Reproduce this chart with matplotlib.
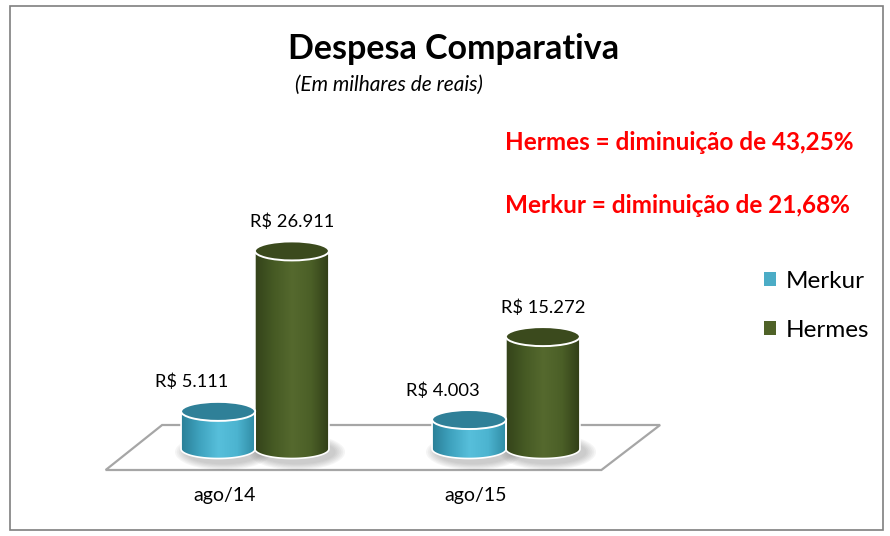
import numpy as np
import matplotlib.pyplot as plt
from matplotlib.patches import Ellipse, Polygon, Rectangle, PathPatch, Patch
from matplotlib.path import Path
from matplotlib.colors import LinearSegmentedColormap

plt.rcParams['font.family'] = ['Lato', 'DejaVu Sans']

categories = ["ago/14", "ago/15"]
series = ["Merkur", "Hermes"]
merkur = [5111, 4003]
hermes = [26911, 15272]
value_labels = [["R$ 5.111", "R$ 4.003"], ["R$ 26.911", "R$ 15.272"]]
title = "Despesa Comparativa"
subtitle = "(Em milhares de reais)"
notes = ["Hermes = diminuição de 43,25%", "Merkur = diminuição de 21,68%"]

W, H = 890, 536
fig = plt.figure(figsize=(W / 100, H / 100), dpi=100)
ax = fig.add_axes([0, 0, 1, 1])
ax.axis('off')

# pixel layout: category 0 center at px 255, 251 px per category, base at px 449
px_x0, px_per_cat = 255, 251
px_base, px_per_val = 449, 0.00736
ax.set_xlim(-px_x0 / px_per_cat, (W - px_x0) / px_per_cat)
ax.set_ylim((px_base - H) / px_per_val, px_base / px_per_val)

def vpx(p):  # pixel length -> value units
    return p / px_per_val

# border of the chart area
fig.patches.append(Rectangle((10 / W, 6 / H), 873 / W, 524 / H, transform=fig.transFigure,
                             fill=False, edgecolor='#7f7f7f', lw=1.2))

# floor
front, back = -vpx(21), vpx(24)
floor = Polygon([(-0.595, front), (-0.37, back), (1 + 0.614, back), (1 + 0.38, front)],
                closed=True, facecolor='white', edgecolor='#a6a6a6', lw=1.6, zorder=1)
ax.add_patch(floor)

cyl_w = 0.295
ell_h = vpx(19)
offsets = [-0.147, 0.147]
colors = [
    dict(grad=['#2a7f97', '#3fa3bf', '#57bfdb', '#4cb4d0', '#2f8aa3'], top='#2f8098', legend='#4bacc6'),
    dict(grad=['#34431a', '#465a24', '#55692e', '#4b5f27', '#303d17'], top='#3b4a1d', legend='#4f6228'),
]
all_vals = [merkur, hermes]

for s, vals in enumerate(all_vals):
    cmap = LinearSegmentedColormap.from_list('c%d' % s, colors[s]['grad'])
    for i, v in enumerate(vals):
        xc = i + offsets[s]
        x0, x1 = xc - cyl_w / 2, xc + cyl_w / 2
        # shadow
        for k in range(6):
            ax.add_patch(Ellipse((xc + 0.02, -vpx(3)), cyl_w * (1.05 + 0.05 * k), ell_h * (1.3 + 0.12 * k),
                                 facecolor='#606060', edgecolor='none', alpha=0.06, zorder=2))
        # body path
        t = np.linspace(np.pi, 2 * np.pi, 60)
        arc = np.column_stack([xc + cyl_w / 2 * np.cos(t), ell_h / 2 * np.sin(t)])
        verts = np.vstack([[[x0, v]], arc, [[x1, v]], [[x0, v]]])
        codes = [Path.MOVETO] + [Path.LINETO] * (len(verts) - 2) + [Path.CLOSEPOLY]
        body = PathPatch(Path(verts, codes), facecolor='none', edgecolor='white', lw=1.2, zorder=4)
        ax.add_patch(body)
        grad = np.linspace(0, 1, 200).reshape(1, -1)
        im = ax.imshow(grad, cmap=cmap, aspect='auto', extent=[x0, x1, -ell_h / 2, v],
                       origin='lower', zorder=3, interpolation='bilinear')
        im.set_clip_path(body)
        # top
        ax.add_patch(Ellipse((xc, v), cyl_w, ell_h, facecolor=colors[s]['top'],
                             edgecolor='white', lw=1.4, zorder=5))
        # value label
        dx = -0.105 if s == 0 else 0.0
        ax.annotate(value_labels[s][i], (xc + dx, v), xytext=(0, 21), textcoords='offset points',
                    ha='center', va='center', fontsize=13.2, color='black', zorder=6)

for i, c in enumerate(categories):
    ax.text(i - 0.12, -vpx(47), c, ha='center', va='center', fontsize=14)

fig.text(454 / W, 1 - 49 / H, title, ha='center', va='center', fontsize=24.5, fontweight='bold')
fig.text(389 / W, 1 - 85 / H, subtitle, ha='center', va='center', fontsize=15, style='italic')
fig.text(505 / W, 1 - 142 / H, notes[0], ha='left', va='center', fontsize=17.5,
         fontweight='bold', color='#ff0000')
fig.text(505 / W, 1 - 206 / H, notes[1], ha='left', va='center', fontsize=17.5,
         fontweight='bold', color='#ff0000')

handles = [Patch(facecolor=colors[s]['legend'], edgecolor='none') for s in range(2)]
fig.legend(handles, series, loc='center left', bbox_to_anchor=(742 / W, 1 - 306 / H),
           frameon=False, fontsize=17.5, handlelength=0.5, handleheight=0.5,
           handletextpad=0.4, labelspacing=1.15)

fig.savefig('out.png', dpi=100)
